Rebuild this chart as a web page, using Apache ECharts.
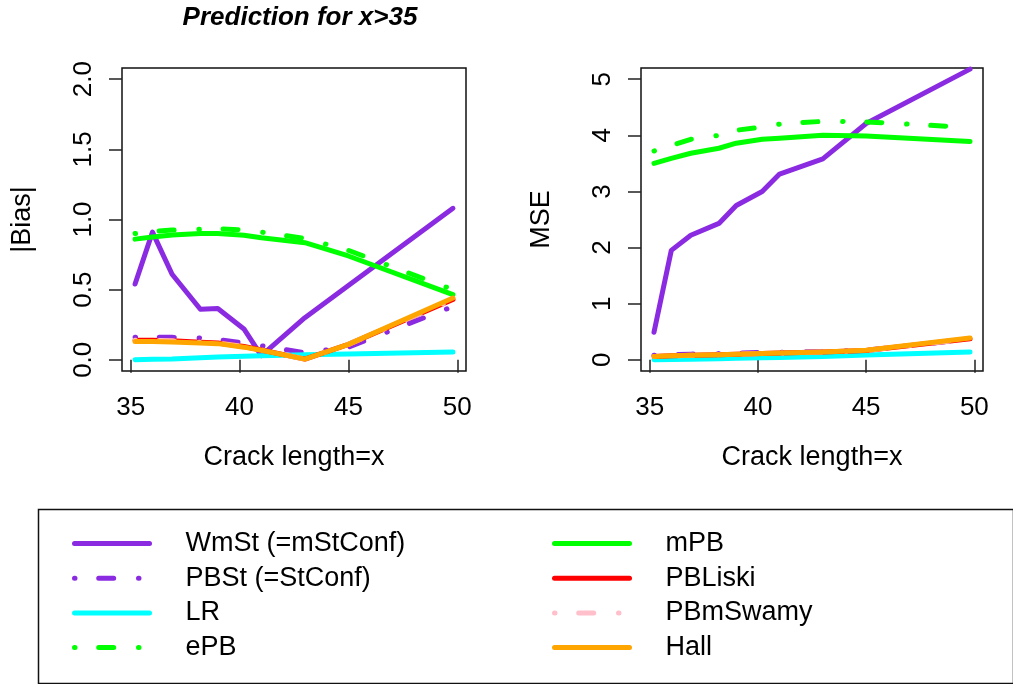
<!DOCTYPE html>
<html><head><meta charset="utf-8">
<script src="https://cdn.jsdelivr.net/npm/echarts@6/dist/echarts.min.js"></script>
<style>html,body{margin:0;padding:0;background:#fff}#c{width:1013px;height:684px}</style>
</head><body><div id="c"></div>
<script>
// ---------- data ----------
const crackLength = [35.2, 36, 36.9, 38.2, 39, 40.2, 41, 43, 45, 49.8];
const xTicks = [35, 40, 45, 50];
const biasTicks = [0, 0.5, 1, 1.5, 2];
const mseTicks = [0, 1, 2, 3, 4, 5];
const methods = ['WmSt (=mStConf)', 'PBSt (=StConf)', 'LR', 'ePB', 'mPB', 'PBLiski', 'PBmSwamy', 'Hall'];

// |Bias|
const bias_WmSt     = [0.54, 0.91, 0.61, 0.36, 0.365, 0.22, 0.03, 0.30, 0.53, 1.08];
const bias_PBSt     = [0.16, 0.16, 0.16, 0.155, 0.145, 0.12, 0.10, 0.05, 0.09, 0.38];
const bias_LR       = [0.0, 0.003, 0.006, 0.015, 0.02, 0.025, 0.028, 0.035, 0.042, 0.055];
const bias_ePB      = [0.90, 0.915, 0.925, 0.93, 0.935, 0.925, 0.91, 0.865, 0.78, 0.50];
const bias_mPB      = [0.86, 0.875, 0.89, 0.90, 0.90, 0.888, 0.87, 0.835, 0.74, 0.465];
const bias_PBLiski  = [0.14, 0.14, 0.135, 0.125, 0.12, 0.095, 0.07, 0.005, 0.11, 0.43];
const bias_PBmSwamy = [0.14, 0.14, 0.135, 0.125, 0.12, 0.095, 0.07, 0.005, 0.11, 0.43];
const bias_Hall     = [0.13, 0.13, 0.127, 0.12, 0.115, 0.09, 0.068, 0.005, 0.11, 0.44];

// MSE
const mse_WmSt     = [0.49, 1.95, 2.22, 2.43, 2.75, 3.0, 3.31, 3.58, 4.21, 5.18];
const mse_PBSt     = [0.08, 0.09, 0.10, 0.11, 0.12, 0.13, 0.135, 0.15, 0.17, 0.37];
const mse_LR       = [0.0, 0.005, 0.01, 0.02, 0.025, 0.035, 0.04, 0.06, 0.085, 0.14];
const mse_ePB      = [3.72, 3.82, 3.93, 4.0, 4.09, 4.15, 4.2, 4.25, 4.24, 4.14];
const mse_mPB      = [3.50, 3.59, 3.68, 3.77, 3.86, 3.93, 3.95, 4.0, 3.99, 3.89];
const mse_PBLiski  = [0.06, 0.07, 0.08, 0.09, 0.10, 0.11, 0.12, 0.14, 0.165, 0.375];
const mse_PBmSwamy = [0.06, 0.07, 0.08, 0.09, 0.10, 0.11, 0.12, 0.14, 0.165, 0.375];
const mse_Hall     = [0.06, 0.07, 0.08, 0.09, 0.10, 0.11, 0.12, 0.14, 0.17, 0.39];

const biasSeries = [bias_WmSt, bias_PBSt, bias_LR, bias_ePB, bias_mPB, bias_PBLiski, bias_PBmSwamy, bias_Hall];
const mseSeries  = [mse_WmSt, mse_PBSt, mse_LR, mse_ePB, mse_mPB, mse_PBLiski, mse_PBmSwamy, mse_Hall];

// ---------- styles ----------
const DOTDASH = [0.5, 23.7, 15, 24.8];
const styles = [
  {color: '#8A2BE2', type: 'solid'},
  {color: '#8A2BE2', type: DOTDASH},
  {color: '#00FFFF', type: 'solid'},
  {color: '#00FF00', type: DOTDASH},
  {color: '#00FF00', type: 'solid'},
  {color: '#FF0000', type: 'solid'},
  {color: '#FFC0CB', type: DOTDASH},
  {color: '#FFA500', type: 'solid'}
];
const FONT = '"Liberation Sans", Arial, Helvetica, sans-serif';

function mkSeries(valsList, gi) {
  return methods.map((name, i) => ({
    name: name,
    type: 'line',
    xAxisIndex: gi, yAxisIndex: gi,
    symbol: 'none',
    animation: false,
    silent: true,
    itemStyle: {color: styles[i].color},
    lineStyle: {color: styles[i].color, width: 5, type: styles[i].type, cap: 'round', join: 'round'},
    data: crackLength.map((x, k) => [x, valsList[i][k]])
  }));
}

function mkX(gi) {
  return {
    type: 'value', gridIndex: gi, min: 34.6, max: 50.4,
    name: 'Crack length=x', nameLocation: 'middle', nameGap: 73,
    nameTextStyle: {fontFamily: FONT, fontSize: 27, color: '#000'},
    axisLine: {show: false},
    splitLine: {show: false},
    axisTick: {show: true, length: 13, customValues: xTicks, lineStyle: {color: '#222', width: 1.5}},
    axisLabel: {customValues: xTicks, margin: 24, fontFamily: FONT, fontSize: 26, color: '#000'}
  };
}
function mkY(gi, name, min, max, ticks, fmt) {
  return {
    type: 'value', gridIndex: gi, min: min, max: max,
    name: name, nameLocation: 'middle', nameGap: 86, nameRotate: 90,
    nameTextStyle: {fontFamily: FONT, fontSize: 27, color: '#000'},
    axisLine: {show: false},
    splitLine: {show: false},
    axisTick: {show: true, length: 13, customValues: ticks, lineStyle: {color: '#222', width: 1.5}},
    axisLabel: {customValues: ticks, rotate: 90, margin: 25, fontFamily: FONT, fontSize: 26, color: '#000', formatter: fmt}
  };
}

function mkLegend(names, left) {
  return {
    show: true, orient: 'vertical', left: left, top: 530, padding: 0,
    itemWidth: 75, itemHeight: 2, itemGap: 7.7,
    selectedMode: false,
    data: names,
    itemStyle: {opacity: 0},
    lineStyle: {width: 5},
    textStyle: {fontFamily: FONT, fontSize: 27, lineHeight: 27, color: '#000', padding: [0, 0, 0, 31]}
  };
}

const chart = echarts.init(document.getElementById('c'), null, {renderer: 'canvas'});
chart.setOption({
  backgroundColor: '#fff',
  animation: false,
  title: {
    text: 'Prediction for x>35', left: 295, top: 0, textAlign: 'center',
    textStyle: {fontFamily: FONT, fontSize: 26, fontWeight: 'bold', fontStyle: 'italic', color: '#000'}
  },
  grid: [
    {left: 122, top: 68, width: 344, height: 303, show: true, borderColor: '#111', borderWidth: 1.5, backgroundColor: 'transparent'},
    {left: 641, top: 68, width: 342, height: 303, show: true, borderColor: '#111', borderWidth: 1.5, backgroundColor: 'transparent'}
  ],
  xAxis: [mkX(0), mkX(1)],
  yAxis: [
    mkY(0, '|Bias|', -0.08, 2.08, biasTicks, v => v.toFixed(1)),
    mkY(1, 'MSE', -0.2, 5.2, mseTicks, v => String(v))
  ],
  legend: [mkLegend(methods.slice(0, 4), 72), mkLegend(methods.slice(4), 552)],
  graphic: [{
    type: 'rect', left: 36, top: 507, silent: true,
    shape: {width: 975, height: 174},
    style: {fill: 'none', stroke: '#111', lineWidth: 1.5}
  }],
  series: mkSeries(biasSeries, 0).concat(mkSeries(mseSeries, 1))
});
</script></body></html>
